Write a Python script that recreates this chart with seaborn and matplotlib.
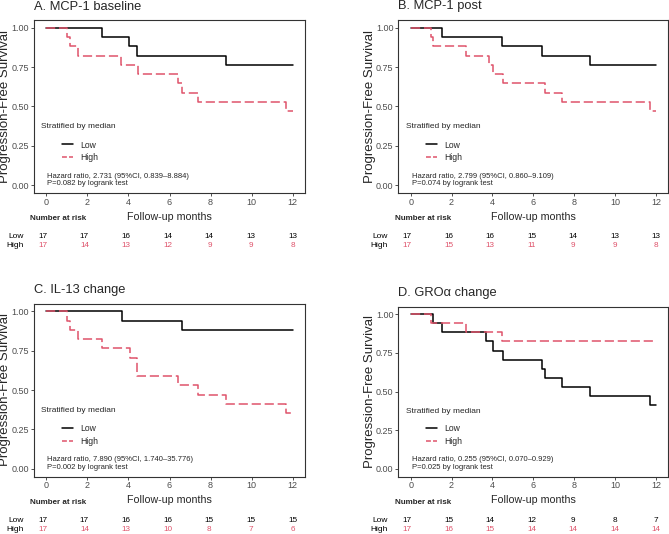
import numpy as np
import pandas as pd
import matplotlib
matplotlib.use("Agg")
import matplotlib.pyplot as plt
import seaborn as sns
from matplotlib.lines import Line2D

sns.set_theme(style="ticks")
plt.rcParams["font.family"] = ["Liberation Sans", "DejaVu Sans"]

# ---------------- data ----------------
groups = ["Low", "High"]
risk_times = [0, 2, 4, 6, 8, 10, 12]

a_low_t = [0, 2.71, 4.02, 4.44, 8.75, 12]
a_low_s = [1.0, 0.941, 0.882, 0.824, 0.765, 0.765]
a_high_t = [0, 1.0, 1.14, 1.54, 3.66, 4.47, 6.39, 6.59, 7.40, 11.67, 12]
a_high_s = [1.0, 0.941, 0.882, 0.824, 0.765, 0.706, 0.647, 0.588, 0.529, 0.471, 0.471]
a_risk_low = [17, 17, 16, 14, 14, 13, 13]
a_risk_high = [17, 14, 13, 12, 9, 9, 8]

b_low_t = [0, 1.52, 4.45, 6.41, 8.77, 12]
b_low_s = [1.0, 0.941, 0.882, 0.824, 0.765, 0.765]
b_high_t = [0, 0.99, 1.11, 2.71, 3.85, 4.05, 4.53, 6.57, 7.39, 11.7, 12]
b_high_s = [1.0, 0.941, 0.882, 0.824, 0.765, 0.706, 0.647, 0.588, 0.529, 0.471, 0.471]
b_risk_low = [17, 16, 16, 15, 14, 13, 13]
b_risk_high = [17, 15, 13, 11, 9, 9, 8]

c_low_t = [0, 3.69, 6.62, 12]
c_low_s = [1.0, 0.941, 0.882, 0.882]
c_high_t = [0, 1.0, 1.14, 1.54, 2.72, 4.07, 4.44, 6.39, 7.40, 8.73, 11.67, 12]
c_high_s = [1.0, 0.941, 0.882, 0.824, 0.765, 0.706, 0.588, 0.529, 0.471, 0.412, 0.353, 0.353]
c_risk_low = [17, 17, 16, 16, 15, 15, 15]
c_risk_high = [17, 14, 13, 10, 8, 7, 6]

d_low_t = [0, 1.11, 1.52, 3.69, 4.02, 4.5, 6.41, 6.57, 7.39, 8.77, 11.7, 12]
d_low_s = [1.0, 0.941, 0.882, 0.824, 0.765, 0.706, 0.647, 0.588, 0.529, 0.471, 0.412, 0.412]
d_high_t = [0, 0.99, 2.71, 4.45, 12]
d_high_s = [1.0, 0.941, 0.882, 0.824, 0.824]
d_risk_low = [17, 15, 14, 12, 9, 8, 7]
d_risk_high = [17, 16, 15, 14, 14, 14, 14]

titles = ["A. MCP-1 baseline", "B. MCP-1 post", "C. IL-13 change", "D. GRO\u03b1 change"]
hr_texts = [
    "Hazard ratio, 2.731 (95%CI, 0.839\u20138.884)",
    "Hazard ratio, 2.799 (95%CI, 0.860\u20139.109)",
    "Hazard ratio, 7.890 (95%CI, 1.740\u201335.776)",
    "Hazard ratio, 0.255 (95%CI, 0.070\u20130.929)",
]
p_texts = [
    "P=0.082 by logrank test",
    "P=0.074 by logrank test",
    "P=0.002 by logrank test",
    "P=0.025 by logrank test",
]

# ---------------- styling ----------------
RED = "#DF536B"
PALETTE = {"Low": "black", "High": RED}
DASHES = {"Low": "", "High": (6, 2.5)}
LW = 1.1
W, H = 669, 534
AXC = "#333333"
TXT = "#4D4D4D"

fig = plt.figure(figsize=(W / 100, H / 100), dpi=100)


def rect(l, t, r, b):
    return [l / W, 1 - b / H, (r - l) / W, (b - t) / H]


def panel(box, title, lt, ls, ht, hs, hr, pv, rlow, rhigh, rows):
    L, R, T, B = box
    ax = fig.add_axes(rect(L, T, R, B))
    df = pd.concat([
        pd.DataFrame({"time": lt, "surv": ls, "group": "Low"}),
        pd.DataFrame({"time": ht, "surv": hs, "group": "High"}),
    ], ignore_index=True)
    sns.lineplot(data=df, x="time", y="surv", hue="group", style="group",
                 hue_order=groups, style_order=groups, palette=PALETTE,
                 dashes=DASHES, estimator=None, drawstyle="steps-post",
                 lw=LW, legend=False, ax=ax)
    ax.set_xlim(-0.6, 12.6)
    ax.set_ylim(-0.05, 1.05)
    ax.set_xticks(risk_times)
    ax.set_yticks([0, 0.25, 0.5, 0.75, 1.0])
    ax.set_yticklabels(["0.00", "0.25", "0.50", "0.75", "1.00"])
    for s in ax.spines.values():
        s.set_visible(True)
        s.set_color(AXC)
        s.set_linewidth(0.8)
    ax.tick_params(length=2.2, width=0.6, color=AXC, labelsize=6.5,
                   labelcolor=TXT, pad=1.4)
    wpx = R - L
    hpx = B - T
    ax.set_ylabel("Progression-Free Survival", fontsize=9.5, va="center")
    ax.yaxis.set_label_coords(-28.5 / wpx, 0.5)
    ax.set_xlabel("Follow-up months", fontsize=7.7, va="center")
    ax.xaxis.set_label_coords(0.5, -23.5 / hpx)

    fig.text(L / W, 1 - (T - 13.5) / H, title, fontsize=9.3,
             ha="left", va="center")

    ax.text(0.05, 0.058, hr, fontsize=5.5, ha="left", va="center")
    ax.text(0.05, 0.010, pv, fontsize=5.5, ha="left", va="center")
    ax.text(-0.24, 0.37, "Stratified by median", fontsize=6,
            ha="left", va="center")
    handles = [Line2D([], [], color="black", lw=LW),
               Line2D([], [], color=RED, lw=LW, dashes=(3.2, 1.4))]
    ax.legend(handles, groups, loc="upper left",
              bbox_to_anchor=(27.5 / wpx, 52.5 / hpx), frameon=False,
              fontsize=6.2, handlelength=1.3, handletextpad=0.85,
              labelspacing=0.45, borderpad=0, borderaxespad=0)

    fig.text((L - 3.5) / W, 1 - (B + 25.5) / H, "Number at risk",
             fontsize=5.8, fontweight="bold", ha="left", va="center")

    # risk table axes: t=0 sits 3.5 px left of the plot's 0
    scale = wpx / 13.2
    x0 = L + 0.6 * scale - 3.5
    x12 = L + 12.6 * scale
    yl, yh = rows
    tab = fig.add_axes(rect(x0, yl - 4.6, x12, yh + 4.6))
    tab.set_xlim(0, 12)
    tab.set_ylim(0, 2)
    tab.axis("off")
    for t, nl, nh in zip(risk_times, rlow, rhigh):
        tab.text(t, 1.5, str(nl), fontsize=5.9, ha="center", va="center",
                 color="black")
        tab.text(t, 0.5, str(nh), fontsize=5.9, ha="center", va="center",
                 color=RED)
    off = -19.4 / ((x12 - x0) / 12)
    tab.text(off, 1.5, "Low", fontsize=6.0, ha="right", va="center",
             color="black", clip_on=False)
    tab.text(off, 0.5, "High", fontsize=6.0, ha="right", va="center",
             color="black", clip_on=False)
    return ax


panel((34, 305, 20, 193), titles[0], a_low_t, a_low_s, a_high_t, a_high_s,
      hr_texts[0], p_texts[0], a_risk_low, a_risk_high, (236, 245.3))
panel((398.4, 668.3, 20, 193), titles[1], b_low_t, b_low_s, b_high_t, b_high_s,
      hr_texts[1], p_texts[1], b_risk_low, b_risk_high, (236, 245.3))
panel((34, 305, 303.5, 476.5), titles[2], c_low_t, c_low_s, c_high_t, c_high_s,
      hr_texts[2], p_texts[2], c_risk_low, c_risk_high, (520.6, 529.3))
panel((398.4, 668.3, 306.5, 476.5), titles[3], d_low_t, d_low_s, d_high_t, d_high_s,
      hr_texts[3], p_texts[3], d_risk_low, d_risk_high, (520.6, 529.3))

fig.savefig("out.png", dpi=100)
